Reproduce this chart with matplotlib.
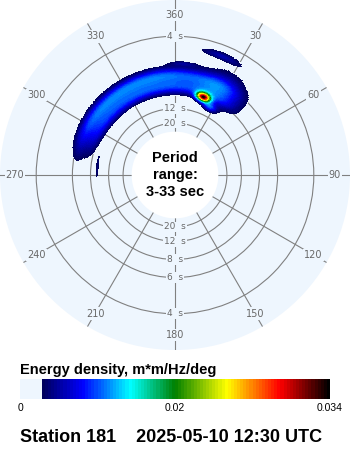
import numpy as np
import matplotlib
matplotlib.use("Agg")
import matplotlib.pyplot as plt
from matplotlib.colors import LinearSegmentedColormap

plt.rcParams["font.family"] = ["Liberation Sans", "DejaVu Sans"]

# Caption
station_id = "181"
valid_time = "2025-05-10 12:30 UTC"

# Period range covered by the disc (s)
period_min = 3
period_max = 33

# Grid rings (s) and direction spokes (deg, clockwise from north)
ring_periods = [4, 6, 8, 12, 20]
direction_ticks = [0, 30, 60, 90, 120, 150, 180, 210, 240, 270, 300, 330]
direction_labels = ["360", "30", "60", "90", "120", "150", "180", "210", "240", "270", "300", "330"]

# Colour scale (m*m/Hz/deg)
energy_max = 0.034
energy_floor = 0.0023

# Spectral lobes: mean direction (deg), peak period (s), directional spread (deg),
# frequency spread (Hz), peak energy density (m*m/Hz/deg)
lobe_direction = [300, 325, 350, 15, 303, 330, 355, 20, 30, 20, 27, 21, 4, 275]
lobe_period = [6.22, 6.22, 6.22, 6.22, 7.52, 7.52, 7.52, 7.52, 6.3, 8.23, 9.4, 4.44, 5.31, 9.09]
lobe_dir_spread = [15, 15, 15, 15, 15, 15, 15, 15, 10, 3.5, 4, 8, 6, 10]
lobe_freq_spread = [0.0135, 0.0135, 0.0135, 0.0135, 0.0125, 0.0125, 0.0125, 0.0125,
                    0.032, 0.007, 0.007, 0.0069, 0.0046, 0.0037]
lobe_energy = [0.0062, 0.006, 0.006, 0.0052, 0.0054, 0.005, 0.005, 0.0046,
               0.0055, 0.028, 0.007, 0.0042, 0.003, 0.0029]

disc_color = "#eef6fe"
grid_color = "#808080"
label_color = "#686868"

# Spectrum on a direction x frequency grid
f_min, f_max = 1.0 / period_max, 1.0 / period_min
theta_deg = np.linspace(0, 360, 721)
freq = np.linspace(f_min, f_max, 500)
TH, FR = np.meshgrid(theta_deg, freq)
energy = np.zeros_like(TH)
for d, p, sd, sf, e in zip(lobe_direction, lobe_period, lobe_dir_spread,
                           lobe_freq_spread, lobe_energy):
    dth = (TH - d + 180.0) % 360.0 - 180.0
    energy += e * np.exp(-0.5 * (dth / sd) ** 2) * np.exp(-0.5 * ((FR - 1.0 / p) / sf) ** 2)
energy = np.ma.masked_less(energy, energy_floor)

cmap = LinearSegmentedColormap.from_list(
    "wave_energy",
    [(0.0, disc_color), (0.068, disc_color), (0.068, "#00005a"), (0.2, "#0000ff"),
     (0.355, "#00ffff"), (0.5, "#008000"), (0.668, "#ffff00"), (0.84, "#ff0000"),
     (1.0, "#000000")],
    N=100,
)

fig = plt.figure(figsize=(3.5, 4.5), dpi=100)
W, H = 350.0, 450.0

ax = fig.add_axes([0, 1 - 350 / H, 1, 350 / H], projection="polar")
ax.set_theta_zero_location("N")
ax.set_theta_direction(-1)
ax.set_facecolor(disc_color)
for sp in ax.spines.values():
    sp.set_color("none")
    sp.set_linewidth(0)

mesh = ax.pcolormesh(np.deg2rad(theta_deg), freq, energy, cmap=cmap,
                     vmin=0, vmax=energy_max, shading="auto", zorder=1)

# radial scale: inner hole at the longest period, linear in frequency
r_origin = -0.0695
ax.set_rorigin(r_origin)
ax.set_ylim(f_min, f_max)

ax.set_xticks(np.deg2rad(direction_ticks))
ax.set_xticklabels([])
ax.set_yticks([1.0 / p for p in ring_periods])
ax.set_yticklabels([])
ax.grid(True, color=grid_color, lw=0.8)
ax.set_axisbelow(True)
ax.tick_params(length=0)

label_freq = 0.2988
for d, lab in zip(direction_ticks, direction_labels):
    ax.text(np.deg2rad(d), label_freq, lab, ha="center", va="center",
            fontsize=7, family="DejaVu Sans", color=label_color, zorder=0.8,
            bbox=dict(fc=disc_color, ec="none", pad=0.8))

for p in ring_periods:
    for d in (0, 180):
        ax.text(np.deg2rad(d), 1.0 / p, f"{p}  s", ha="center", va="center",
                fontsize=6.5, family="DejaVu Sans", color=label_color, zorder=0.8,
                bbox=dict(fc=disc_color, ec="none", pad=0.6))

ax.text(0.5, 0.5, f"Period\nrange:\n{period_min}-{period_max} sec", transform=ax.transAxes,
        ha="center", va="center", fontsize=10.5, fontweight="bold", linespacing=1.3,
        zorder=5)

# Colour bar
cax = fig.add_axes([20 / W, 1 - 399 / H, 310 / W, 20 / H])
cb = fig.colorbar(mesh, cax=cax, orientation="horizontal")
cb.outline.set_visible(False)
cb.set_ticks([0, energy_max / 2, energy_max])
cb.set_ticklabels(["0", f"{energy_max / 2:.2f}".rstrip("0"), f"{energy_max:g}"])
cax.tick_params(length=0, pad=3, labelsize=7.5)

fig.text(20 / W, 1 - 370 / H, "Energy density, m*m/Hz/deg", ha="left", va="center",
         fontsize=10.5, fontweight="bold")
fig.text(20 / W, 1 - 438 / H, f"Station {station_id}    {valid_time}", ha="left",
         va="center", fontsize=13, fontweight="bold")

fig.savefig("out.png", dpi=100, facecolor="white")
